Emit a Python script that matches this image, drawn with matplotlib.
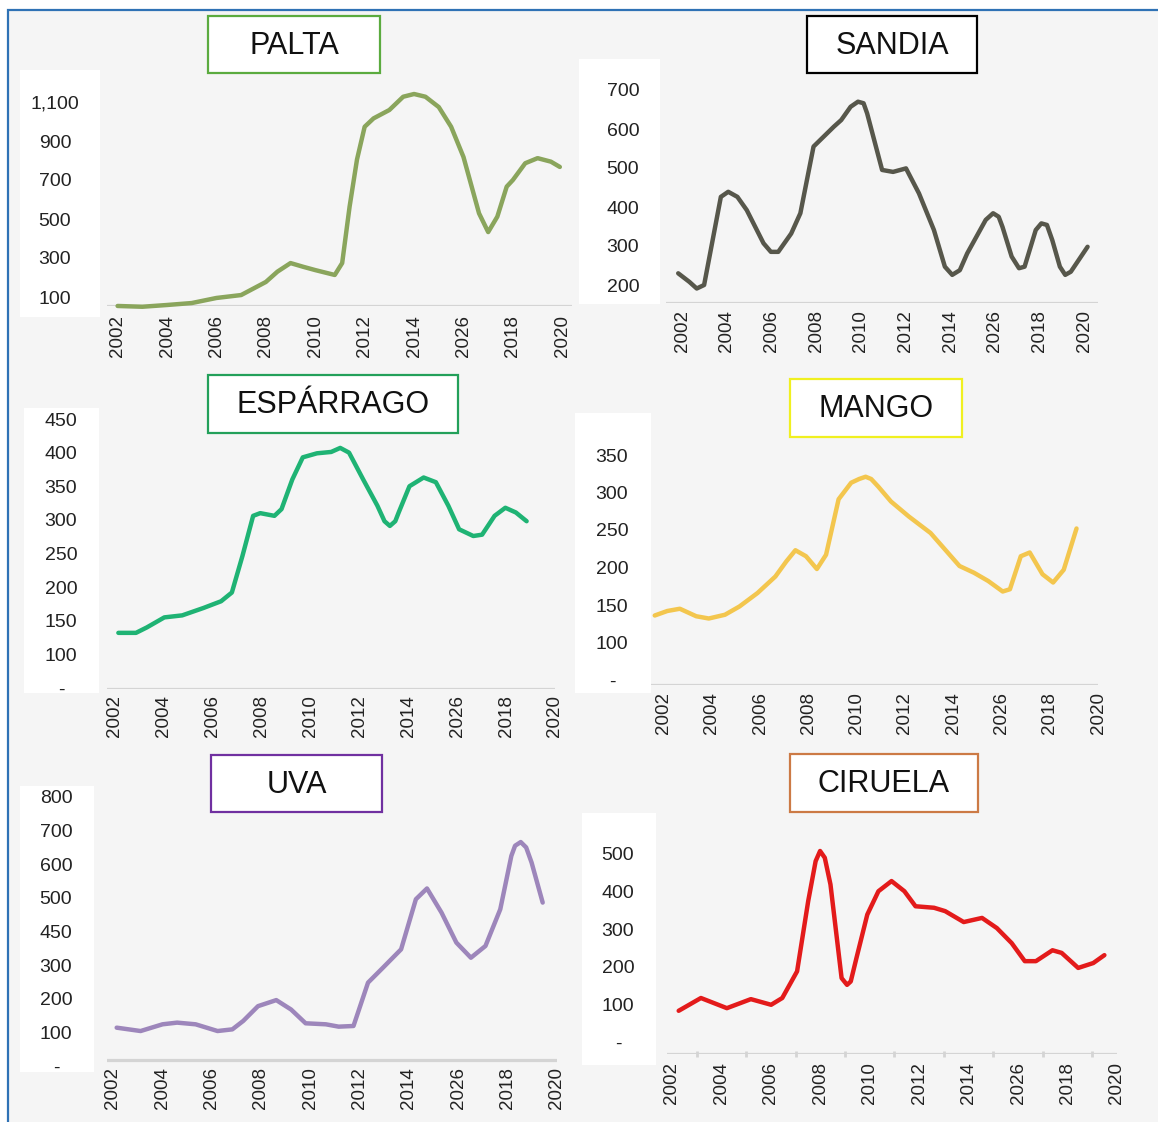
import matplotlib
matplotlib.use("Agg")
import matplotlib.pyplot as plt
from matplotlib.patches import Rectangle

plt.rcParams['font.family'] = ['Liberation Sans', 'DejaVu Sans']

# ---- data ----
year_ticks = list(range(2002, 2021, 2))
year_labels = ["2002", "2004", "2006", "2008", "2010", "2012", "2014", "2026", "2018", "2020"]

palta_years = [2002, 2003, 2004, 2005, 2006, 2007, 2008, 2008.47, 2009, 2009.51, 2010,
               2010.79, 2011.09, 2011.39, 2011.69, 2012, 2012.36, 2013, 2013.56, 2014,
               2014.46, 2015, 2015.5, 2016, 2016.63, 2017, 2017.37, 2017.75, 2018,
               2018.5, 2019, 2019.54, 2019.9]
palta_vals = [54, 50, 59, 69, 95, 110, 177, 230, 274, 255, 238,
              213, 274, 563, 805, 973, 1016, 1059, 1127, 1141,
              1127, 1074, 973, 818, 529, 433, 512, 666, 700,
              786, 812, 794, 767]
palta_yticks = [100, 300, 500, 700, 900, 1100]
palta_ylabels = ["100", "300", "500", "700", "900", "1,100"]

sandia_years = [2001.83, 2002.33, 2002.66, 2002.99, 2003.74, 2004.07, 2004.48, 2004.9,
                2005.65, 2005.98, 2006.31, 2006.89, 2007.3, 2007.89, 2008.8, 2009.13,
                2009.55, 2009.88, 2010.13, 2010.29, 2010.96, 2011.45, 2012.03, 2012.61,
                2013.28, 2013.77, 2014.1, 2014.44, 2014.77, 2015.6, 2015.93, 2016.18,
                2016.35, 2016.76, 2017.09, 2017.34, 2017.84, 2018.09, 2018.34, 2018.58,
                2018.92, 2019.16, 2019.41, 2020.16]
sandia_vals = [230, 208, 191, 200, 426, 439, 426, 392,
               307, 285, 285, 332, 384, 555, 606, 623,
               657, 670, 666, 640, 495, 490, 499, 435,
               341, 247, 226, 238, 281, 367, 384, 375,
               349, 273, 243, 247, 341, 358, 354, 315,
               247, 226, 234, 298]
sandia_yticks = [200, 300, 400, 500, 600, 700]
sandia_ylabels = ["200", "300", "400", "500", "600", "700"]

esparrago_years = [2002.15, 2002.87, 2003.31, 2004.03, 2004.76, 2005.63, 2006.35, 2006.79,
                   2007.22, 2007.66, 2007.95, 2008.53, 2008.82, 2009.26, 2009.69, 2010.27,
                   2010.85, 2011.22, 2011.58, 2012.16, 2012.74, 2013.03, 2013.25, 2013.47,
                   2013.61, 2014.05, 2014.63, 2015.13, 2015.64, 2016.08, 2016.66, 2017.02,
                   2017.53, 2017.97, 2018.40, 2018.84]
esparrago_vals = [132, 132, 140, 155, 158, 169, 179, 192,
                  246, 306, 310, 306, 316, 360, 393, 399,
                  401, 407, 400, 360, 321, 298, 291, 298,
                  311, 350, 363, 356, 321, 286, 276, 278,
                  306, 318, 311, 298]
esparrago_yticks = [50, 100, 150, 200, 250, 300, 350, 400, 450]
esparrago_ylabels = ["-", "100", "150", "200", "250", "300", "350", "400", "450"]

mango_years = [2001.63, 2002.15, 2002.67, 2003.35, 2003.87, 2004.54, 2005.14, 2005.89,
               2006.63, 2007.08, 2007.46, 2007.9, 2008.35, 2008.73, 2009.25, 2009.77,
               2010.1, 2010.37, 2010.6, 2010.89, 2011.42, 2012.16, 2013.06, 2013.66,
               2014.26, 2014.86, 2015.45, 2016.05, 2016.35, 2016.8, 2017.17, 2017.7,
               2018.14, 2018.58, 2019.11]
mango_vals = [136, 142, 145, 135, 132, 137, 148, 166,
              188, 208, 223, 215, 198, 217, 291, 313,
              318, 321, 318, 308, 288, 268, 246, 224,
              202, 193, 182, 168, 171, 215, 220, 191,
              180, 197, 252]
mango_yticks = [50, 100, 150, 200, 250, 300, 350]
mango_ylabels = ["-", "100", "150", "200", "250", "300", "350"]

uva_years = [2002.15, 2003.12, 2004.01, 2004.6, 2005.35, 2006.24, 2006.84, 2007.28,
             2007.88, 2008.62, 2009.22, 2009.81, 2010.63, 2011.15, 2011.75, 2012.34,
             2012.94, 2013.68, 2014.28, 2014.73, 2015.32, 2015.92, 2016.51, 2017.1,
             2017.7, 2018.15, 2018.3, 2018.53, 2018.75, 2018.97, 2019.42]
uva_vals = [114, 104, 124, 129, 124, 104, 109, 134,
            178, 196, 168, 127, 124, 117, 119, 248,
            292, 347, 496, 528, 456, 367, 322, 357,
            466, 625, 655, 666, 650, 605, 486]
uva_yticks = [0, 100, 200, 300, 400, 500, 600, 700, 800]
uva_ylabels = ["-", "100", "200", "300", "450", "500", "600", "700", "800"]

ciruela_years = [2002.27, 2003.17, 2004.22, 2005.19, 2006.01, 2006.46, 2007.06, 2007.51,
                 2007.81, 2007.99, 2008.18, 2008.41, 2008.86, 2009.08, 2009.23, 2009.46,
                 2009.9, 2010.35, 2010.88, 2011.4, 2011.85, 2012.6, 2013.05, 2013.8,
                 2014.54, 2015.14, 2015.74, 2016.27, 2016.72, 2017.39, 2017.76, 2018.43,
                 2019.04, 2019.49]
ciruela_vals = [83, 117, 90, 114, 99, 117, 188, 375,
                481, 508, 490, 419, 170, 152, 161, 223,
                339, 401, 428, 401, 361, 357, 348, 319,
                330, 303, 263, 215, 215, 244, 237, 197,
                210, 231]
ciruela_yticks = [0, 100, 200, 300, 400, 500]
ciruela_ylabels = ["-", "100", "200", "300", "400", "500"]

# ---- figure in pixel units ----
W, H = 1158, 1122
fig = plt.figure(figsize=(W / 100, H / 100), dpi=100)
fig.patch.set_facecolor('#f5f5f5')

bg = fig.add_axes([0, 0, 1, 1])
bg.set_xlim(0, W)
bg.set_ylim(H, 0)
bg.axis('off')
bg.set_zorder(-1)

# white margin + blue frame
bg.add_patch(Rectangle((0, 0), 7, H, facecolor='white', edgecolor='none'))
bg.add_patch(Rectangle((0, 0), W, 9, facecolor='white', edgecolor='none'))
bg.plot([7.5, 7.5, W], [H, 9.5, 9.5], color='#2f72b5', lw=1.6, solid_joinstyle='miter')


def add_panel(title, years, vals, yticks, ylabels, color, edge, L):
    x0, x1, base, top = L['x0'], L['x1'], L['base'], L['top']
    v1, p1, v2, p2 = L['ref']
    s = (v2 - v1) / (p1 - p2)

    def val(p):
        return v1 + (p1 - p) * s

    low_tick_px = p1 - (min(yticks) - v1) / s
    bottom = max(base, low_tick_px + 1)

    # white box behind the y labels
    bx0, by0, bx1, by1 = L['box']
    bg.add_patch(Rectangle((bx0, by0), bx1 - bx0, by1 - by0,
                           facecolor='white', edgecolor='none'))
    # title box
    tx0, ty0, tx1, ty1 = L['tbox']
    bg.add_patch(Rectangle((tx0, ty0), tx1 - tx0, ty1 - ty0,
                           facecolor='white', edgecolor=edge, lw=1.6))
    bg.text((tx0 + tx1) / 2, (ty0 + ty1) / 2 + 1, title, ha='center', va='center',
            fontsize=22, color='#111111')

    ax = fig.add_axes([x0 / W, 1 - bottom / H, (x1 - x0) / W, (bottom - top) / H])
    ax.set_facecolor('none')
    ax.set_zorder(1)
    xa, xb = L['xa'], L['xb']
    ax.set_xlim(2002 + (x0 - xa) * 18 / (xb - xa), 2002 + (x1 - xa) * 18 / (xb - xa))
    ax.set_ylim(val(bottom), val(top))
    for sp in ax.spines.values():
        sp.set_visible(False)

    ax.axhline(val(base), color='#d4d4d4', lw=2.3, zorder=1)
    ax.plot(years, vals, color=color, lw=3.2, solid_capstyle='round',
            solid_joinstyle='round', clip_on=False, zorder=3)

    ax.set_xticks(year_ticks)
    ax.set_xticklabels(year_labels, rotation=90, fontsize=13.5, color='#222222')
    ax.tick_params(axis='x', length=0, pad=max(L['lbl_top'] - bottom, 0) * 0.72)
    if L.get('minor'):
        ax.set_xticks(range(2002, 2021), minor=True)
        ax.tick_params(axis='x', which='minor', length=5, width=2,
                       color='#d4d4d4', direction='inout')

    ax.set_yticks(yticks)
    ax.set_yticklabels(ylabels, fontsize=14, color='#222222')
    ax.tick_params(axis='y', length=0, pad=(x0 - L['lab_x']) * 0.72)
    for t in ax.get_yticklabels():
        t.set_ha('center')
    return ax


add_panel("PALTA", palta_years, palta_vals, palta_yticks, palta_ylabels,
          '#8aa55c', '#5bab3f',
          dict(x0=107, x1=572, base=306, top=70, xa=117.6, xb=562.3,
               ref=(100, 297, 1100, 102), lab_x=55, box=(20, 70, 100, 317),
               tbox=(208, 16, 380, 73), lbl_top=315))

add_panel("SANDIA", sandia_years, sandia_vals, sandia_yticks, sandia_ylabels,
          '#57574b', '#000000',
          dict(x0=666, x1=1098, base=303, top=59, xa=682, xb=1084,
               ref=(200, 285, 700, 90), lab_x=623, box=(579, 59, 660, 304),
               tbox=(807, 16, 977, 73), lbl_top=310))

add_panel("ESPÁRRAGO", esparrago_years, esparrago_vals, esparrago_yticks, esparrago_ylabels,
          '#1fb374', '#23a05a',
          dict(x0=107, x1=555, base=689, top=408, xa=115, xb=573,
               ref=(50, 688, 450, 419), lab_x=61, box=(24, 408, 99, 693),
               tbox=(208, 375, 458, 433), lbl_top=695))

add_panel("MANGO", mango_years, mango_vals, mango_yticks, mango_ylabels,
          '#f3c64e', '#f0f020',
          dict(x0=651, x1=1098, base=685, top=413, xa=664, xb=1110,
               ref=(50, 680, 350, 455), lab_x=612, box=(575, 413, 651, 693),
               tbox=(790, 379, 962, 437), lbl_top=692))

add_panel("UVA", uva_years, uva_vals, uva_yticks, uva_ylabels,
          '#9d86bb', '#7030a0',
          dict(x0=107, x1=557, base=1060, top=786, xa=113, xb=560,
               ref=(0, 1066, 800, 797), lab_x=56, box=(20, 786, 94, 1072),
               tbox=(211, 755, 382, 812), lbl_top=1067))

add_panel("CIRUELA", ciruela_years, ciruela_vals, ciruela_yticks, ciruela_ylabels,
          '#e31b1b', '#cc7a45',
          dict(x0=667, x1=1117, base=1054, top=813, xa=672, xb=1117,
               ref=(0, 1042, 500, 854), lab_x=618, box=(582, 813, 656, 1065),
               tbox=(790, 754, 978, 812), lbl_top=1062, minor=True))

fig.savefig("out.png", dpi=100, facecolor=fig.get_facecolor())
